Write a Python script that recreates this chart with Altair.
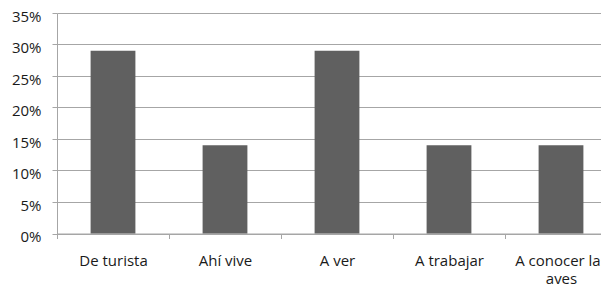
import altair as alt
import pandas as pd

categories = ["De turista", "Ahí vive", "A ver", "A trabajar", "A conocer las aves"]
values = [0.29, 0.14, 0.29, 0.14, 0.14]
y_ticks = [0, 0.05, 0.10, 0.15, 0.20, 0.25, 0.30, 0.35]

df = pd.DataFrame({"cat": categories, "val": values})

FONT = "Open Sans"
GRID = "#a6a6a6"

chart = (
    alt.Chart(df)
    .mark_bar(color="#606060", width=alt.RelativeBandSize(0.4))
    .encode(
        x=alt.X(
            "cat:N",
            sort=categories,
            scale=alt.Scale(paddingInner=0, paddingOuter=0),
            axis=alt.Axis(
                title=None,
                labelAngle=0,
                tickBand="extent",
                tickSize=5,
                tickColor=GRID,
                domainColor=GRID,
                labelPadding=15,
                labelFont=FONT,
                labelFontSize=15,
                labelColor="#1a1a1a",
                labelLineHeight=18,
                labelExpr="datum.label == 'A conocer las aves' ? ['A conocer las', 'aves'] : datum.label",
                grid=False,
                labelLimit=0,
            ),
        ),
        y=alt.Y(
            "val:Q",
            scale=alt.Scale(domain=[0, 0.35], nice=False),
            axis=alt.Axis(
                title=None,
                values=y_ticks,
                format=".0%",
                tickSize=5,
                tickColor=GRID,
                domainColor=GRID,
                gridColor=GRID,
                labelPadding=11,
                labelOffset=3,
                labelFont=FONT,
                labelFontSize=15,
                labelColor="#1a1a1a",
            ),
        ),
    )
    .properties(
        width=560,
        height=220.5,
        autosize=alt.AutoSizeParams(type="none"),
        padding={"left": 49, "top": 5, "right": -16, "bottom": 55},
    )
    .configure_view(stroke=None)
)

chart.save("out.html", embed_options={"renderer": "svg", "actions": False})
